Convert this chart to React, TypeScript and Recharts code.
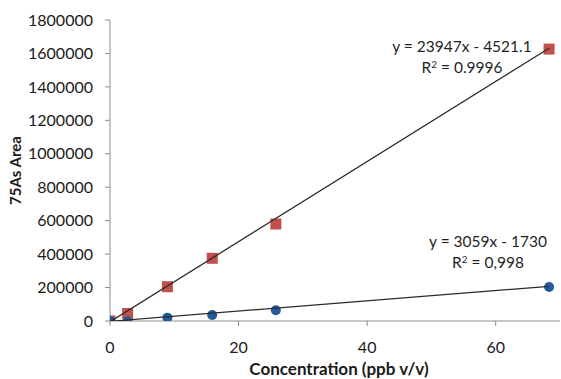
import React from 'react';
import { ScatterChart, Scatter, XAxis, YAxis, Customized } from 'recharts';

const concentrations = [0, 2.74, 8.93, 15.9, 25.8, 68.3];
const redAreas = [0, 45000, 205000, 375000, 580000, 1626000];
const blueAreas = [0, -2000, 20000, 36000, 64000, 203000];
const yTicks = [0, 200000, 400000, 600000, 800000, 1000000, 1200000, 1400000, 1600000, 1800000];
const xTicks = [0, 20, 40, 60];
const redFit = { slope: 23947, intercept: -4521.1, label: 'y = 23947x - 4521.1', r2: '0.9996' };
const blueFit = { slope: 3059, intercept: -1730, label: 'y = 3059x - 1730', r2: '0,998' };

const redData = concentrations.map((x, i) => ({ x, y: redAreas[i] }));
const blueData = concentrations.map((x, i) => ({ x, y: blueAreas[i] }));
const xMin = Math.min(...concentrations);
const xMax = Math.max(...concentrations);
const trend = (f: { slope: number; intercept: number }) => [
  { x: xMin, y: f.slope * xMin + f.intercept },
  { x: xMax, y: f.slope * xMax + f.intercept },
];

const FONT = 'Lato, "Open Sans", sans-serif';
const RED = '#C0504D';
const BLUE = '#245A9A';
const AXIS = '#8C8C8C';

const Square = (props: any) => {
  const { cx, cy } = props;
  if (cx == null || cy == null) return null;
  return <rect x={cx - 5.5} y={cy - 5.5} width={11} height={11} fill={RED} />;
};
const Dot = (props: any) => {
  const { cx, cy } = props;
  if (cx == null || cy == null) return null;
  return <circle cx={cx} cy={cy} r={5} fill={BLUE} />;
};
const NoShape = () => null;

const Annotations = () => (
  <g fontFamily={FONT} fontSize={15.5} fill="#1f1f1f">
    <text x={462} y={52} textAnchor="middle">{redFit.label}</text>
    <text x={462} y={73} textAnchor="middle">
      R<tspan dy={-5} fontSize={10}>2</tspan><tspan dy={5}> = {redFit.r2}</tspan>
    </text>
    <text x={488} y={247} textAnchor="middle">{blueFit.label}</text>
    <text x={488} y={268} textAnchor="middle">
      R<tspan dy={-5} fontSize={10}>2</tspan><tspan dy={5}> = {blueFit.r2}</tspan>
    </text>
  </g>
);

export default function App() {
  return (
    <div style={{ position: 'absolute', left: 0, top: 0, width: 561, height: 379, background: '#fff' }}>
      <ScatterChart width={561} height={379} margin={{ top: 20, right: 1, bottom: 0, left: 0 }}>
        <XAxis
          type="number"
          dataKey="x"
          domain={[0, 70]}
          ticks={xTicks}
          allowDataOverflow
          height={58}
          stroke={AXIS}
          tickSize={5}
          tickMargin={16}
          tick={{ fill: '#1a1a1a', fontSize: 16, fontFamily: FONT }}
          label={{
            value: 'Concentration (ppb v/v)',
            position: 'insideBottom',
            offset: 4,
            dx: 4,
            style: { fontFamily: FONT, fontSize: 17, fontWeight: 700, fill: '#1a1a1a' },
          }}
        />
        <YAxis
          type="number"
          dataKey="y"
          domain={[0, 1800000]}
          ticks={yTicks}
          allowDataOverflow
          width={110}
          stroke={AXIS}
          tickSize={5}
          tickMargin={12}
          tick={{ fill: '#1a1a1a', fontSize: 16, fontFamily: FONT }}
          label={{
            value: '75As Area',
            angle: -90,
            position: 'insideLeft',
            offset: 16,
            style: { textAnchor: 'middle', fontFamily: FONT, fontSize: 15, fontWeight: 700, fill: '#1a1a1a' },
          }}
        />
        <Scatter data={redData} fill={RED} shape={Square} isAnimationActive={false} />
        <Scatter data={blueData} fill={BLUE} shape={Dot} isAnimationActive={false} />
        <Scatter data={trend(redFit)} line={{ stroke: '#2a2a2a', strokeWidth: 1.3 }} shape={NoShape} isAnimationActive={false} />
        <Scatter data={trend(blueFit)} line={{ stroke: '#2a2a2a', strokeWidth: 1.3 }} shape={NoShape} isAnimationActive={false} />
        <Customized component={Annotations} />
      </ScatterChart>
    </div>
  );
}
